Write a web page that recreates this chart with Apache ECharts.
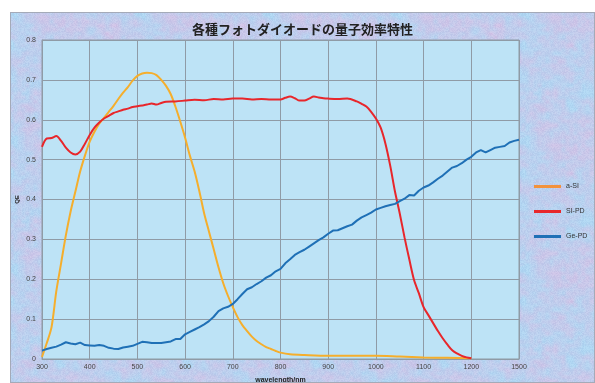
<!DOCTYPE html>
<html>
<head>
<meta charset="utf-8">
<script src="https://cdn.jsdelivr.net/npm/echarts@6/dist/echarts.min.js"></script>
<style>
  html, body { margin: 0; padding: 0; background: #fff; }
  #main { position: absolute; left: 10px; top: 12px; width: 585px; height: 371px; box-sizing: border-box; border: 1px solid #A4AAB8; }
</style>
</head>
<body>
<div id="main"></div>
<script>
// wavelength grid (nm) and quantum efficiency readings
var aSiWave = [300, 310, 320, 330, 340, 350, 360, 370, 380, 390, 400, 410, 420, 430, 440, 450, 460, 470, 480, 490,
  500, 510, 520, 530, 540, 550, 560, 570, 580, 590, 600, 610, 620, 630, 640, 650, 660, 670, 680, 690,
  700, 710, 720, 730, 740, 750, 760, 770, 780, 790, 800, 820, 850, 900, 1000, 1050, 1100, 1150, 1200];
var aSiQE = [0.005, 0.04, 0.08, 0.17, 0.24, 0.31, 0.37, 0.42, 0.47, 0.51, 0.545, 0.57, 0.59, 0.605, 0.62, 0.635, 0.652, 0.668, 0.682, 0.698,
  0.71, 0.716, 0.718, 0.717, 0.712, 0.70, 0.685, 0.664, 0.632, 0.595, 0.555, 0.51, 0.47, 0.42, 0.365, 0.32, 0.275, 0.23, 0.19, 0.158,
  0.13, 0.105, 0.085, 0.07, 0.056, 0.045, 0.037, 0.03, 0.025, 0.02, 0.016, 0.012, 0.01, 0.008, 0.008, 0.006, 0.004, 0.003, 0.002];

var siWave = [300, 310, 320, 330, 340, 350, 360, 370, 380, 390, 400, 410, 420, 430, 440, 450, 460, 470, 480, 490,
  500, 510, 520, 530, 540, 550, 560, 580, 600, 620, 640, 660, 680, 700, 720, 740, 760, 780, 800, 810,
  820, 830, 840, 850, 860, 870, 880, 890, 900, 920, 940, 960, 970, 980, 990, 1000, 1010, 1020, 1030, 1040,
  1050, 1060, 1070, 1080, 1090, 1100, 1110, 1120, 1130, 1140, 1150, 1160, 1170, 1180, 1190, 1200];
var siQE = [0.532, 0.553, 0.554, 0.559, 0.547, 0.53, 0.518, 0.513, 0.52, 0.54, 0.562, 0.58, 0.593, 0.603, 0.61, 0.617, 0.621, 0.625, 0.628, 0.632,
  0.634, 0.636, 0.638, 0.641, 0.638, 0.642, 0.645, 0.646, 0.648, 0.65, 0.649, 0.652, 0.651, 0.653, 0.653, 0.651, 0.652, 0.651, 0.651, 0.655,
  0.658, 0.654, 0.648, 0.648, 0.653, 0.658, 0.656, 0.654, 0.653, 0.652, 0.653, 0.646, 0.64, 0.633, 0.62, 0.603, 0.58, 0.54, 0.485, 0.42,
  0.365, 0.305, 0.25, 0.198, 0.165, 0.13, 0.11, 0.09, 0.07, 0.052, 0.036, 0.022, 0.014, 0.008, 0.004, 0.002];

var geWave = [];
for (var w = 300; w <= 1300; w += 10) geWave.push(w);
var geQE = [0.021, 0.025, 0.028, 0.031, 0.036, 0.042, 0.039, 0.037, 0.041, 0.035,
  0.034, 0.033, 0.035, 0.033, 0.028, 0.026, 0.025, 0.029, 0.031, 0.033,
  0.038, 0.043, 0.042, 0.040, 0.040, 0.040, 0.042, 0.044, 0.050, 0.050,
  0.062, 0.068, 0.074, 0.080, 0.087, 0.095, 0.106, 0.12, 0.127, 0.131,
  0.138, 0.15, 0.163, 0.175, 0.18, 0.188, 0.195, 0.204, 0.21, 0.22,
  0.226, 0.24, 0.25, 0.261, 0.268, 0.274, 0.282, 0.29, 0.298, 0.305,
  0.314, 0.322, 0.323, 0.328, 0.333, 0.337, 0.347, 0.355, 0.361, 0.367,
  0.375, 0.379, 0.383, 0.386, 0.389, 0.396, 0.402, 0.411, 0.41, 0.422,
  0.43, 0.435, 0.443, 0.452, 0.46, 0.47, 0.48, 0.484, 0.491, 0.5,
  0.507, 0.518, 0.524, 0.518, 0.524, 0.53, 0.532, 0.534, 0.543, 0.547, 0.55];

var xTickLabels = ['300', '400', '500', '600', '700', '800', '900', '1000', '1100', '1200', '1500'];

function pairs(xs, ys) {
  return xs.map(function (x, i) { return [x, ys[i]]; });
}

// mottled blue/pink paper texture for the chart background
function makeTexture() {
  var size = 128, cv = document.createElement('canvas');
  cv.width = size; cv.height = size;
  var ctx = cv.getContext('2d');
  var img = ctx.createImageData(size, size);
  function h(x, y, p) {
    x = ((x % p) + p) % p; y = ((y % p) + p) % p;
    var s = Math.sin(x * 127.1 + y * 311.7) * 43758.5453;
    return s - Math.floor(s);
  }
  function vn(x, y, cell) {
    var p = size / cell, gx = x / cell, gy = y / cell;
    var ix = Math.floor(gx), iy = Math.floor(gy), fx = gx - ix, fy = gy - iy;
    fx = fx * fx * (3 - 2 * fx); fy = fy * fy * (3 - 2 * fy);
    var a = h(ix, iy, p), b = h(ix + 1, iy, p), c = h(ix, iy + 1, p), d = h(ix + 1, iy + 1, p);
    return a + (b - a) * fx + (c - a) * fy + (a - b - c + d) * fx * fy;
  }
  for (var y = 0; y < size; y++) {
    for (var x = 0; x < size; x++) {
      var t = 0.4 * vn(x, y, 16) + 0.35 * vn(x, y, 8) + 0.25 * vn(x, y, 4);
      t = Math.max(0, Math.min(1, (t - 0.5) * 1.5 + 0.4));
      var f = h(x * 7 + 3, y * 13 + 5, 100000) - 0.5;
      var r = 176 + (210 - 176) * t + f * 14;
      var g = 214 + (194 - 214) * t + f * 14;
      var bl = 242 + (230 - 242) * t + f * 8;
      var k = (y * size + x) * 4;
      img.data[k] = r; img.data[k + 1] = g; img.data[k + 2] = bl; img.data[k + 3] = 255;
    }
  }
  ctx.putImageData(img, 0, 0);
  return cv.toDataURL();
}

var el = document.getElementById('main');
el.style.backgroundImage = 'url(' + makeTexture() + ')';

var chart = echarts.init(el);

var option = {
  backgroundColor: 'transparent',
  animation: false,
  title: {
    text: '各種フォトダイオードの量子効率特性',
    left: 'center',
    top: 5,
    textStyle: {
      fontFamily: 'Noto Sans CJK JP',
      fontSize: 13,
      fontWeight: 'bold',
      color: '#222'
    }
  },
  legend: {
    orient: 'vertical',
    left: 518,
    top: 165,
    itemWidth: 27,
    itemHeight: 3,
    itemGap: 18,
    icon: 'rect',
    textStyle: { fontSize: 7, color: '#333', fontFamily: 'Liberation Sans' },
    data: [
      { name: 'a-SI', itemStyle: { color: '#F2923C' } },
      { name: 'SI-PD' },
      { name: 'Ge-PD' }
    ]
  },
  grid: {
    left: 31,
    top: 27,
    width: 477,
    height: 319,
    outerBoundsMode: 'none',
    containLabel: false,
    show: true,
    backgroundColor: '#BDE3F6',
    borderColor: '#8F9BA6',
    borderWidth: 1
  },
  xAxis: {
    type: 'value',
    min: 300,
    max: 1300,
    interval: 100,
    name: 'wavelength/nm',
    nameLocation: 'middle',
    nameGap: 18,
    nameMoveOverlap: false,
    nameTextStyle: { fontSize: 7, fontWeight: 'bold', color: '#222', fontFamily: 'Liberation Sans' },
    axisLine: { lineStyle: { color: '#8F9BA6' } },
    axisTick: { show: false },
    axisLabel: {
      fontSize: 7,
      color: '#444',
      margin: 5,
      fontFamily: 'Liberation Sans',
      formatter: function (v) { return xTickLabels[Math.round((v - 300) / 100)]; }
    },
    splitLine: { show: true, lineStyle: { color: '#8F9BA6', width: 1 } }
  },
  yAxis: {
    type: 'value',
    min: 0,
    max: 0.8,
    interval: 0.1,
    name: 'QE',
    nameLocation: 'middle',
    nameRotate: 90,
    nameGap: 22,
    nameMoveOverlap: false,
    nameTextStyle: { fontSize: 6, fontWeight: 'bold', color: '#222', fontFamily: 'Liberation Sans' },
    axisLine: { show: true, lineStyle: { color: '#8F9BA6' } },
    axisTick: { show: false },
    axisLabel: { fontSize: 7, color: '#444', margin: 6, fontFamily: 'Liberation Sans' },
    splitLine: { show: true, lineStyle: { color: '#8F9BA6', width: 1 } }
  },
  series: [
    {
      name: 'a-SI',
      type: 'line',
      data: pairs(aSiWave, aSiQE),
      showSymbol: false,
      smooth: 0.3,
      lineStyle: { width: 2, color: '#F5AE2C' },
      itemStyle: { color: '#F5AE2C' }
    },
    {
      name: 'SI-PD',
      type: 'line',
      data: pairs(siWave, siQE),
      showSymbol: false,
      smooth: 0.3,
      lineStyle: { width: 2, color: '#E8262B' },
      itemStyle: { color: '#E8262B' }
    },
    {
      name: 'Ge-PD',
      type: 'line',
      data: pairs(geWave, geQE),
      showSymbol: false,
      lineStyle: { width: 2, color: '#1F70B6' },
      itemStyle: { color: '#1F70B6' }
    }
  ]
};

chart.setOption(option);
</script>
</body>
</html>
